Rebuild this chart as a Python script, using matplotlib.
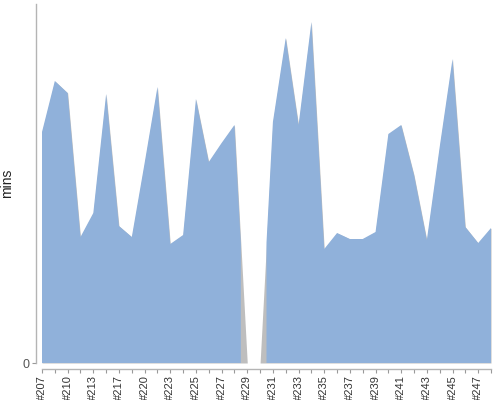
import numpy as np
import matplotlib.pyplot as plt

# build numbers on the x axis (every other one is labelled)
builds = ["#207", "#208", "#210", "#211", "#213", "#215", "#217", "#218", "#220", "#221",
          "#223", "#224", "#225", "#226", "#227", "#228", "#229", "#230", "#231", "#232",
          "#233", "#234", "#235", "#236", "#237", "#238", "#239", "#240", "#241", "#242",
          "#243", "#244", "#245", "#246", "#247", "#248"]
# build durations (chart units, no scale shown except 0)
durations = [231, 282, 270, 126, 150, 269, 137, 126, 200, 276,
             119, 128, 264, 201, 220, 238, 0, 0, 241, 325,
             238, 341, 114, 130, 124, 124, 131, 229, 238, 188,
             123, 216, 304, 136, 120, 135]
status = ["SUCCESS"] * 16 + ["ABORTED"] * 2 + ["SUCCESS"] * 18

blue = "#90b1da"
grey = "#bebebe"

n = len(builds)
x = np.arange(n)
y = np.array(durations, dtype=float)
ok = [s == "SUCCESS" for s in status]

# successful builds: area is cut off at the half-way point next to aborted builds
px, py = [], []
for i in range(n):
    if not ok[i]:
        continue
    if i == 0:
        px.append(i); py.append(0)
    elif not ok[i - 1]:
        px += [i - 0.5, i - 0.5]; py += [0, (y[i - 1] + y[i]) / 2]
    px.append(i); py.append(y[i])
    if i == n - 1:
        px.append(i); py.append(0)
    elif not ok[i + 1]:
        px += [i + 0.5, i + 0.5]; py += [(y[i] + y[i + 1]) / 2, 0]

fig = plt.figure(figsize=(5, 4), dpi=100)
ax = fig.add_axes([0.084, 0.0925, 0.898, 0.8975])

ax.fill_between(x, 0, y, color=grey, linewidth=0)
ax.fill(px, py, color=blue, linewidth=0)

ax.set_xlim(0, n - 1)
ax.set_ylim(0, 359)

for side in ["top", "right"]:
    ax.spines[side].set_visible(False)
for side in ["left", "bottom"]:
    ax.spines[side].set_position(("outward", 4))
    ax.spines[side].set_color("#b4b4b4")
    ax.spines[side].set_linewidth(1)

ax.set_xticks(x)
ax.set_xticklabels([b if i % 2 == 0 else "" for i, b in enumerate(builds)],
                   rotation=90, fontsize=8, family="Liberation Sans", color="#333333")
ax.set_yticks([0])
ax.set_yticklabels(["0"], fontsize=9, family="Liberation Sans", color="#555555")
ax.tick_params(axis="both", direction="out", length=3, width=0.8, color="#999999", pad=2)

ax.set_ylabel("mins", fontsize=10, family="Liberation Sans", color="#222222", labelpad=6)

fig.savefig("out.png", dpi=100)
